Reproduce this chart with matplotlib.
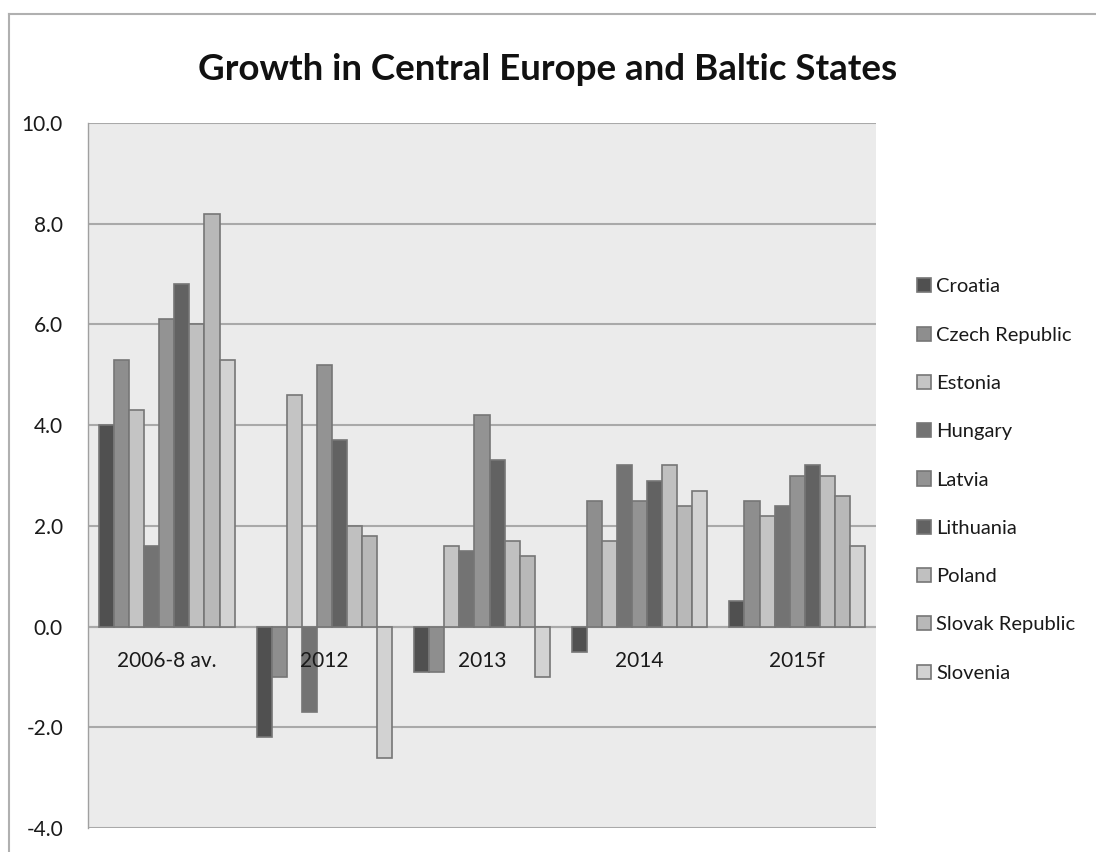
import numpy as np
import matplotlib
matplotlib.use("Agg")
import matplotlib.pyplot as plt
from matplotlib.lines import Line2D

plt.rcParams['font.family'] = ['Lato', 'DejaVu Sans']

periods = ["2006-8 av.", "2012", "2013", "2014", "2015f"]
countries = ["Croatia", "Czech Republic", "Estonia", "Hungary", "Latvia",
             "Lithuania", "Poland", "Slovak Republic", "Slovenia"]

croatia = [4.0, -2.2, -0.9, -0.5, 0.5]
czech = [5.3, -1.0, -0.9, 2.5, 2.5]
estonia = [4.3, 4.6, 1.6, 1.7, 2.2]
hungary = [1.6, -1.7, 1.5, 3.2, 2.4]
latvia = [6.1, 5.2, 4.2, 2.5, 3.0]
lithuania = [6.8, 3.7, 3.3, 2.9, 3.2]
poland = [6.0, 2.0, 1.7, 3.2, 3.0]
slovak = [8.2, 1.8, 1.4, 2.4, 2.6]
slovenia = [5.3, -2.6, -1.0, 2.7, 1.6]

series = [croatia, czech, estonia, hungary, latvia, lithuania, poland, slovak, slovenia]
colors = ["#505050", "#8e8e8e", "#c4c4c4", "#737373", "#939393",
          "#626262", "#c0c0c0", "#b8b8b8", "#d2d2d2"]

fig = plt.figure(figsize=(10.96, 8.52), dpi=100)
ax = fig.add_axes([88 / 1096, 1 - 828 / 852, 788 / 1096, 705 / 852])
ax.set_facecolor("#ebebeb")

x = np.arange(len(periods))
group_w = 0.86
bw = group_w / len(series)
for i, (vals, c, name) in enumerate(zip(series, colors, countries)):
    pos = x - group_w / 2 + bw * (i + 0.5)
    ax.bar(pos, vals, width=bw, color=c, edgecolor="#767676", linewidth=1.2,
           label=name, zorder=3)

ax.set_xlim(-0.5, len(periods) - 0.5)
ax.set_ylim(-4, 10)
ax.set_yticks(np.arange(-4, 10.1, 2))
ax.set_yticklabels([f"{v:.1f}" for v in np.arange(-4, 10.1, 2)], fontsize=15, color="#1a1a1a")
ax.tick_params(axis="y", length=0, pad=18)
ax.set_xticks([])
ax.grid(axis="y", color="#a9a9a9", linewidth=1.5, zorder=0)
ax.axhline(0, color="#a9a9a9", linewidth=1.5, zorder=2)
for s in ["top", "right", "bottom"]:
    ax.spines[s].set_visible(False)
ax.spines["left"].set_color("#a0a0a0")
ax.spines["left"].set_linewidth(1.0)

# period labels sit just under the zero line
for xi, lab in zip(x, periods):
    ax.annotate(lab, (xi, 0), xytext=(0, -34), textcoords="offset pixels",
                ha="center", va="center", fontsize=15, color="#1a1a1a", zorder=4)

fig.text(0.5, 1 - 70 / 852, "Growth in Central Europe and Baltic States",
         ha="center", va="center", fontsize=26.5, fontweight="bold", color="#111111")

leg = ax.legend(loc="center left", bbox_to_anchor=(917 / 1096, 1 - 480 / 852),
                bbox_transform=fig.transFigure, frameon=False, fontsize=14.5,
                handlelength=0.7, handleheight=0.7, handletextpad=0.25,
                labelspacing=1.55, borderpad=0, borderaxespad=0)
for t in leg.get_texts():
    t.set_color("#1a1a1a")

# outer chart border (top and left edges)
fig.add_artist(Line2D([9 / 1096, 9 / 1096], [0, 1 - 14 / 852], transform=fig.transFigure,
                      color="#b0b0b0", linewidth=1.5))
fig.add_artist(Line2D([9 / 1096, 1], [1 - 14 / 852, 1 - 14 / 852], transform=fig.transFigure,
                      color="#b0b0b0", linewidth=1.5))

fig.savefig("out.png", dpi=100)
